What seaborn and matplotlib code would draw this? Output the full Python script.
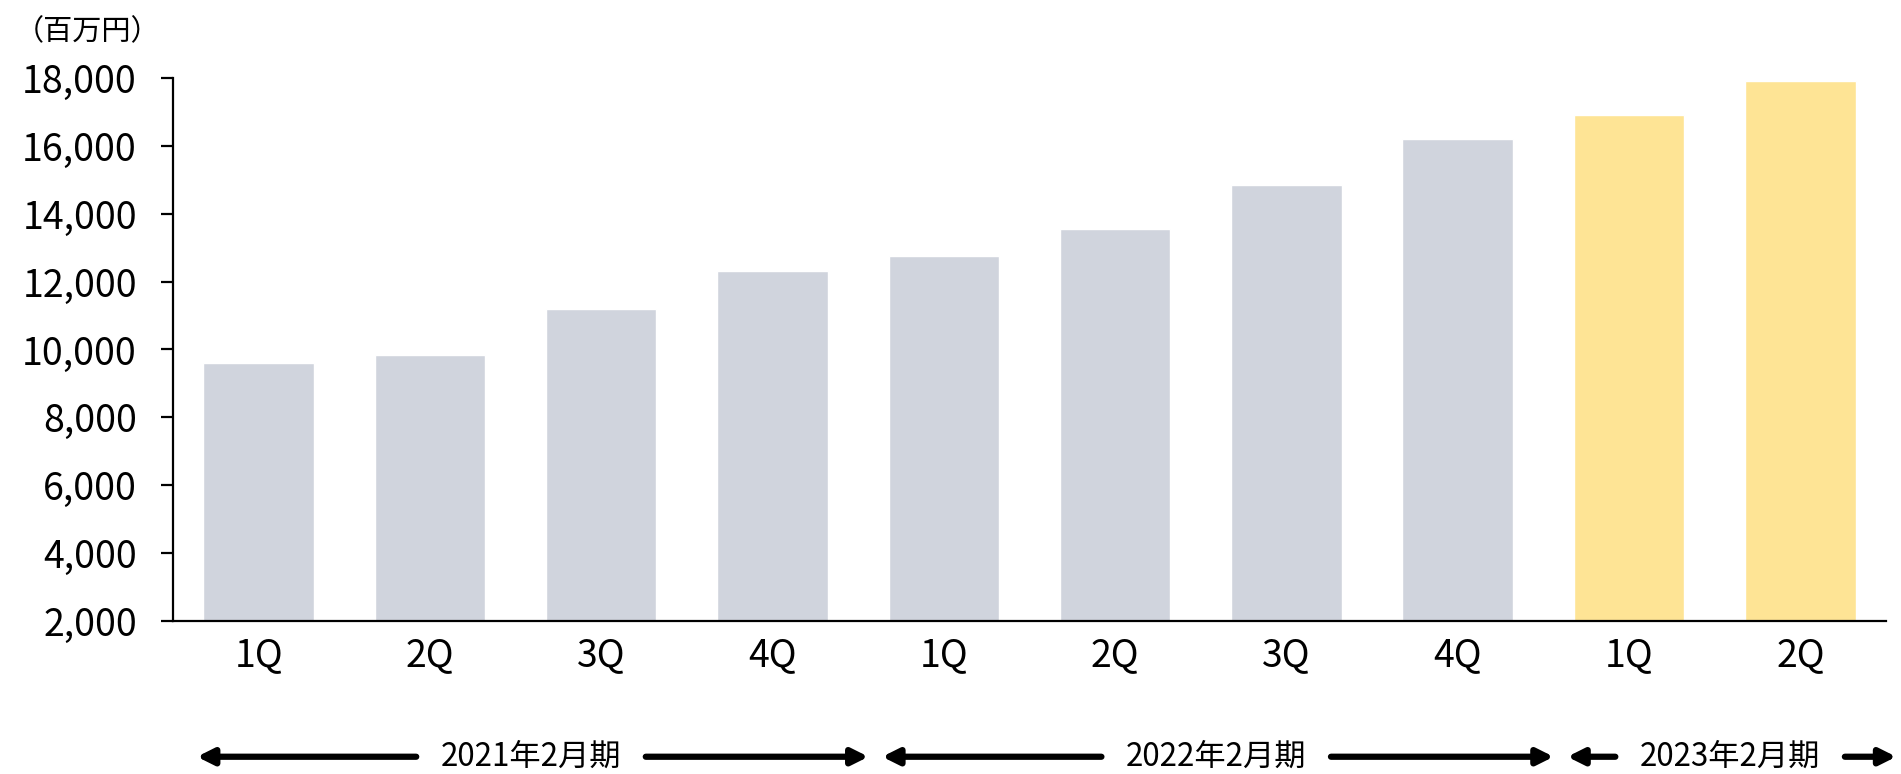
import matplotlib
matplotlib.use("Agg")
import matplotlib.pyplot as plt
import seaborn as sns
import pandas as pd
from matplotlib.ticker import FuncFormatter

# data (百万円)
periods = ["2021年2月期"] * 4 + ["2022年2月期"] * 4 + ["2023年2月期"] * 2
quarters = ["1Q", "2Q", "3Q", "4Q", "1Q", "2Q", "3Q", "4Q", "1Q", "2Q"]
values = [9600, 9850, 11200, 12300, 12750, 13550, 14850, 16200, 16900, 17900]
period_labels = ["2021年2月期", "2022年2月期", "2023年2月期"]
period_colors = {"2021年2月期": "#D0D4DD", "2022年2月期": "#D0D4DD", "2023年2月期": "#FEE495"}

df = pd.DataFrame({"period": periods, "quarter": quarters, "value": values})
df["key"] = df["period"] + " " + df["quarter"]

sns.set_theme(style="white")
plt.rcParams["font.family"] = ["Noto Sans CJK JP", "DejaVu Sans"]

fig = plt.figure(figsize=(19.01, 7.74), dpi=100)
ax = fig.add_axes([0.091, 0.1977, 0.9011, 0.7016])

sns.barplot(data=df, x="key", y="value", hue="period", palette=period_colors,
            order=df["key"].tolist(), width=0.645, dodge=False, legend=False,
            saturation=1, ax=ax)

ax.set_xlim(-0.5, len(values) - 0.5)
ax.set_ylim(2000, 18000)
ax.set_yticks(range(2000, 18001, 2000))
ax.yaxis.set_major_formatter(FuncFormatter(lambda v, p: f"{int(v):,}"))
ax.set_xticks(range(len(values)))
ax.set_xticklabels(df["quarter"])
ax.set_xlabel("")
ax.set_ylabel("")

for side in ["top", "right"]:
    ax.spines[side].set_visible(False)
for side in ["left", "bottom"]:
    ax.spines[side].set_color("black")
    ax.spines[side].set_linewidth(1.6)

ax.tick_params(axis="y", left=True, length=9, width=1.6, color="black",
               pad=17, labelsize=27, labelcolor="black")
ax.tick_params(axis="x", bottom=False, length=0, pad=11,
               labelsize=27, labelcolor="black")

fig.text(0.008, 0.978, "（百万円）", fontsize=21, va="top", ha="left", color="black")

# fiscal-period labels with arrows under the quarters
trans = ax.get_xaxis_transform()
y_row = -0.25
arrow = dict(arrowstyle="-|>", color="black", lw=4.5, mutation_scale=24,
             shrinkA=0, shrinkB=0)
for label in period_labels:
    idx = df.index[df["period"] == label]
    start, end = idx.min(), idx.max()
    mid = (start + end) / 2 + 0.09
    ax.text(mid, y_row, label, transform=trans, ha="center", va="center",
            fontsize=22.5, color="black")
    ax.annotate("", xy=(start - 0.36, y_row), xytext=(mid - 0.67, y_row),
                xycoords=trans, textcoords=trans, arrowprops=arrow,
                annotation_clip=False)
    ax.annotate("", xy=(end + 0.56, y_row), xytext=(mid + 0.67, y_row),
                xycoords=trans, textcoords=trans, arrowprops=arrow,
                annotation_clip=False)

fig.savefig("out.png", dpi=100)
plt.close(fig)
